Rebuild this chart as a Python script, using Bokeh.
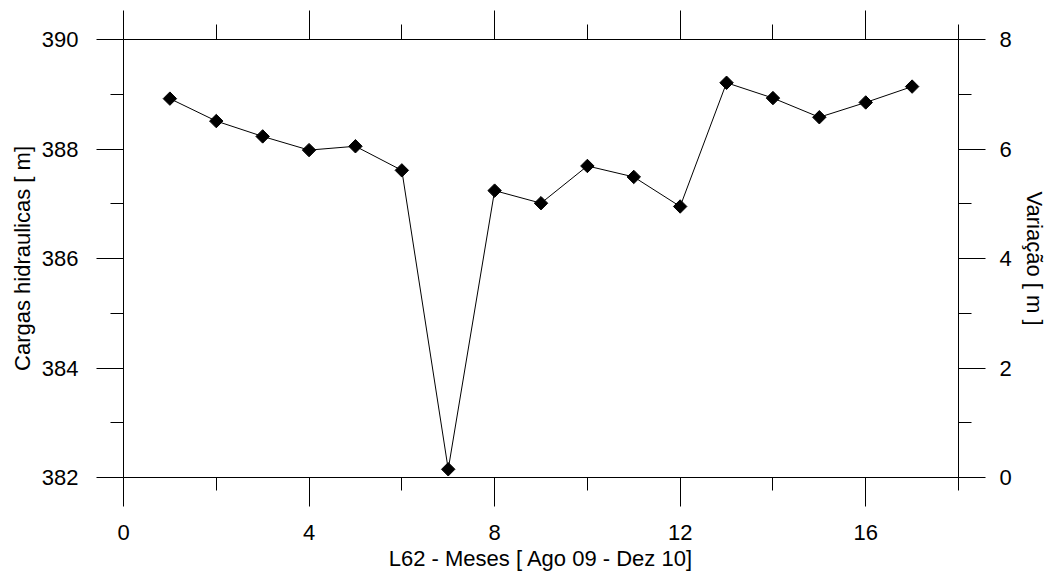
from bokeh.plotting import figure
from bokeh.models import Range1d, LinearAxis, FixedTicker
from bokeh.embed import file_html
from bokeh.resources import INLINE

# Data
meses = list(range(1, 18))
cargas = [388.92, 388.51, 388.23, 387.98, 388.05, 387.61, 382.15, 387.24,
          387.01, 387.69, 387.49, 386.95, 389.21, 388.93, 388.58, 388.85, 389.14]

x_major = [0, 4, 8, 12, 16]
x_minor = [2, 6, 10, 14, 18]
y_major = [382, 384, 386, 388, 390]
y_minor = [383, 385, 387, 389]
r_major = [0, 2, 4, 6, 8]
r_minor = [1, 3, 5, 7]

x_title = "L62 - Meses [ Ago 09 - Dez 10]"
y_title = "Cargas hidraulicas [ m]"
r_title = "Variação [ m ]"

FONT = "Liberation Sans"
FS = "22px"

p = figure(frame_width=835, frame_height=438,
           min_border_left=123, min_border_top=39, min_border_right=91, min_border_bottom=99,
           x_range=Range1d(0, 18), y_range=Range1d(382, 390),
           output_backend="svg", toolbar_location=None,
           x_axis_location=None, y_axis_location=None)
p.outline_line_color = None
p.background_fill_color = "white"
p.border_fill_color = "white"
p.grid.visible = False
p.extra_y_ranges = {"var": Range1d(0, 8)}


def style(ax, major_out, minor_out, standoff, label_standoff):
    ax.axis_line_color = "black"
    ax.axis_line_width = 1
    ax.major_tick_line_color = "black"
    ax.minor_tick_line_color = "black"
    ax.major_tick_in = 0
    ax.minor_tick_in = 0
    ax.major_tick_out = major_out
    ax.minor_tick_out = minor_out
    ax.major_label_text_font = FONT
    ax.major_label_text_font_size = FS
    ax.major_label_text_color = "black"
    ax.major_label_standoff = standoff
    ax.axis_label_text_font = FONT
    ax.axis_label_text_font_size = FS
    ax.axis_label_text_font_style = "normal"
    ax.axis_label_text_color = "black"
    ax.axis_label_standoff = label_standoff


bottom = LinearAxis(ticker=FixedTicker(ticks=x_major, minor_ticks=x_minor), axis_label=x_title)
style(bottom, 29, 13, 18, 3)
p.add_layout(bottom, "below")

top = LinearAxis(ticker=FixedTicker(ticks=x_major, minor_ticks=x_minor))
style(top, 29, 15, 0, 0)
top.major_label_text_font_size = "0px"
top.major_label_text_alpha = 0
p.add_layout(top, "above")

left = LinearAxis(ticker=FixedTicker(ticks=y_major, minor_ticks=y_minor), axis_label=y_title)
style(left, 27, 13, 18, 4)
p.add_layout(left, "left")

right = LinearAxis(y_range_name="var", ticker=FixedTicker(ticks=r_major, minor_ticks=r_minor),
                   axis_label=r_title)
style(right, 27, 13, 14, 7)
p.add_layout(right, "right")

p.line(meses, cargas, line_color="black", line_width=1)
p.scatter(meses, cargas, marker="square", angle=0.785398, size=9.5,
          fill_color="black", line_color="black")

open("out.html", "w").write(file_html(p, INLINE))
